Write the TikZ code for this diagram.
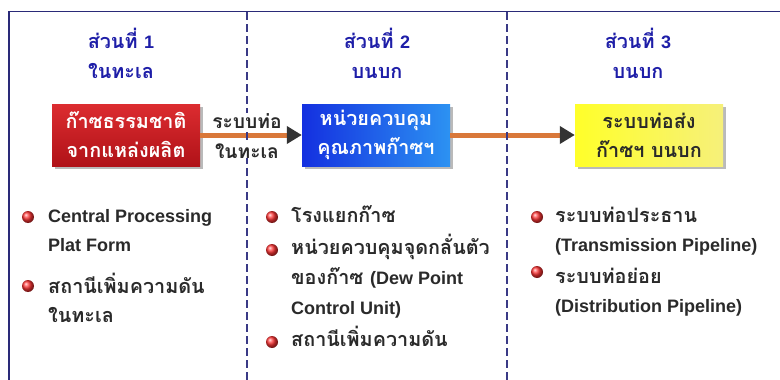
\documentclass[tikz,border=0pt]{standalone}
\usepackage{fontspec}
\setmainfont{Liberation Sans}
\newfontfamily\thai[Script=Thai, Scale=1.1]{Loma}
\usetikzlibrary{arrows.meta,shadows}
\definecolor{framecol}{HTML}{2A2A78}
\definecolor{dashcol}{HTML}{3A3A86}
\definecolor{titlecol}{HTML}{1E1EA8}
\definecolor{bodycol}{HTML}{2A2A2A}
\definecolor{pipecol}{HTML}{D9783A}
\definecolor{tipcol}{HTML}{333333}
\definecolor{redtop}{HTML}{DC2C30}
\definecolor{redbot}{HTML}{B01218}
\definecolor{blueleft}{HTML}{1430E0}
\definecolor{blueright}{HTML}{2C92F2}
\definecolor{yelleft}{HTML}{FFFF2A}
\definecolor{yelright}{HTML}{F6F07A}
\definecolor{bullred}{HTML}{FF3434}
\newcommand\lat[1]{{\rmfamily #1}}
\tikzset{
  title/.style={font=\fontsize{18}{20}\selectfont\bfseries\thai, text=titlecol, anchor=base, inner sep=0pt},
  body/.style={font=\fontsize{18}{20}\selectfont\bfseries\thai, text=bodycol, anchor=base west, inner sep=0pt},
  stagebox/.style={minimum width=148pt, minimum height=62pt, align=center, inner sep=0pt,
    font=\fontsize{18}{29}\selectfont\bfseries\thai,
    drop shadow={shadow xshift=2.5pt, shadow yshift=-2.5pt, opacity=0.45, fill=black!60}},
  pipe/.style={draw=pipecol, line width=5pt, -{Triangle[length=15pt, width=17pt, color=tipcol]}},
  divider/.style={draw=dashcol, line width=1.1pt, dash pattern=on 8pt off 4pt},
  bullet/.style={circle, minimum size=12pt, inner sep=0pt, shading=ball, ball color=bullred},
  pipelabel/.style={font=\fontsize{17.5}{20}\selectfont\bfseries\thai, text=bodycol, fill=white, inner xsep=1pt, inner ysep=0pt}
}
\begin{document}
\begin{tikzpicture}[x=1pt, y=-1pt]
\useasboundingbox (0,0) rectangle (780,380);
\fill[white] (0,0) rectangle (780,380);
% frame
\draw[framecol, line width=1.6pt] (9,380) -- (9,11.5) -- (780,11.5);
% titles
\node[title] (t1a) at (121,48) {ส่วนที่ \lat{1}};
\node[title] (t1b) at (121,78) {ในทะเล};
\node[title] (t2a) at (377,48) {ส่วนที่ \lat{2}};
\node[title] (t2b) at (377,78) {บนบก};
\node[title] (t3a) at (638,48) {ส่วนที่ \lat{3}};
\node[title] (t3b) at (638,78) {บนบก};
% boxes
\node[stagebox, top color=redtop, bottom color=redbot, text=white] (gas) at (126,135) {ก๊าซธรรมชาติ\\จากแหล่งผลิต};
\node[stagebox, left color=blueleft, right color=blueright, text=white] (qc) at (376,135) {หน่วยควบคุม\\คุณภาพก๊าซฯ};
\node[stagebox, left color=yelleft, right color=yelright, text=bodycol] (land) at (649,135) {ระบบท่อส่ง\\ก๊าซฯ บนบก};
% pipes
\draw[pipe] (gas.east) -- (qc.west);
\draw[pipe] (qc.east) -- (land.west);
% dividers
\coordinate (d1t) at (247,12);
\coordinate (d1b) at (247,380);
\coordinate (d2t) at (507,12);
\coordinate (d2b) at (507,380);
\draw[divider] (d1t) -- (d1b);
\draw[divider] (d2t) -- (d2b);
% pipe labels
\node[pipelabel] (pl1) at (247,121) {ระบบท่อ};
\node[pipelabel] (pl2) at (247,151) {ในทะเล};
% column 1 bullets
\node[bullet] (b11) at (28,217) {};
\node[body] (c1l1) at (48,222) {\lat{Central Processing}};
\node[body] (c1l2) at (48,251) {\lat{Plat Form}};
\node[bullet] (b12) at (28,286) {};
\node[body] (c1l3) at (48,293) {สถานีเพิ่มความดัน};
\node[body] (c1l4) at (48,322) {ในทะเล};
% column 2 bullets
\node[bullet] (b21) at (272,217) {};
\node[body] (c2l1) at (291,222) {โรงแยกก๊าซ};
\node[bullet] (b22) at (272,250) {};
\node[body] (c2l2) at (291,254) {หน่วยควบคุมจุดกลั่นตัว};
\node[body] (c2l3) at (291,284) {ของก๊าซ \lat{(Dew Point}};
\node[body] (c2l4) at (291,314) {\lat{Control Unit)}};
\node[bullet] (b23) at (272,342) {};
\node[body] (c2l5) at (291,346) {สถานีเพิ่มความดัน};
% column 3 bullets
\node[bullet] (b31) at (537,217) {};
\node[body] (c3l1) at (555,222) {ระบบท่อประธาน};
\node[body] (c3l2) at (555,251) {\lat{(Transmission Pipeline)}};
\node[bullet] (b32) at (537,272) {};
\node[body] (c3l3) at (555,283) {ระบบท่อย่อย};
\node[body] (c3l4) at (555,312) {\lat{(Distribution Pipeline)}};
\end{tikzpicture}
\end{document}
